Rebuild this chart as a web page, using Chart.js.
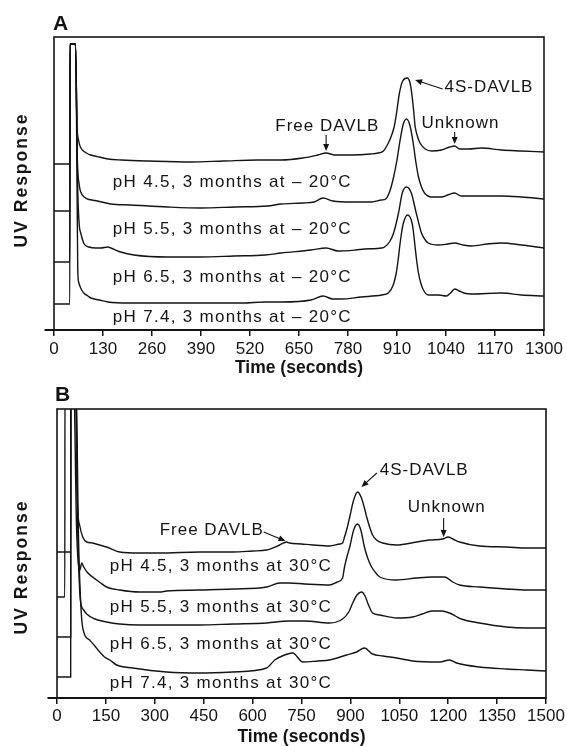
<!DOCTYPE html>
<html>
<head>
<meta charset="utf-8">
<script src="https://cdn.jsdelivr.net/npm/chart.js@4.4.1/dist/chart.umd.min.js"></script>
<style>
  html, body { margin: 0; padding: 0; background: #fff; }
  #wrap { position: relative; width: 567px; height: 746px; overflow: hidden; }
  canvas { position: absolute; left: 0; }
  #chartA { top: 0; }
  #chartB { top: 373px; }
</style>
</head>
<body>
<div id="wrap">
  <canvas id="chartA" width="567" height="392"></canvas>
  <canvas id="chartB" width="567" height="373"></canvas>
</div>
<script>
// ─── Tick labels ─────────────────────────────────────────────
const ticksA = [0, 130, 260, 390, 520, 650, 780, 910, 1040, 1170, 1300];
const ticksB = [0, 150, 300, 450, 600, 750, 900, 1050, 1200, 1350, 1500];

// ─── Panel A: 3 months at -20°C (time s / UV response, arbitrary units) ───
const tA45 = [0, 42, 42.5, 57, 61, 65, 70, 78, 86, 97, 108, 120, 143, 180, 250, 363, 450, 540, 603, 660, 700, 722, 745, 790, 840, 860, 874, 887, 895, 903, 910, 916, 925, 937, 944, 949, 954, 958, 964, 971, 985, 1002, 1028, 1050, 1063, 1076, 1100, 1134, 1187, 1240, 1300];
const uvA45 = [166, 166, 286, 286, 205, 190, 183, 179, 177, 175, 174, 173, 171, 170, 169, 168, 169, 170, 170, 172, 175, 177, 175, 175, 176, 177, 179, 187, 194, 204, 220, 236, 249, 252, 248, 237, 220, 204, 194, 187, 181, 179, 180, 183, 184, 181, 181, 182, 180, 179, 178];

const tA55 = [0, 42, 42.5, 57, 62, 67, 71, 80, 89, 100, 115, 150, 204, 301, 390, 480, 567, 603, 660, 690, 714, 740, 790, 842, 869, 880, 892, 901, 910, 917, 926, 935, 944, 953, 960, 967, 975, 983, 1002, 1028, 1045, 1063, 1080, 1134, 1187, 1240, 1300];
const uvA55 = [119, 119, 286, 286, 170, 145, 138, 133, 131, 130, 129, 126, 125, 123, 122, 123, 124, 126, 127, 128, 132, 129, 128, 128, 130, 131, 140, 153, 170, 187, 205, 211, 205, 187, 168, 153, 143, 137, 133, 133, 135, 137, 134, 134, 134, 133, 131];

const tA65 = [0, 42, 42.5, 57, 63, 67, 71, 80, 93, 110, 124, 143, 151, 177, 212, 301, 390, 478, 560, 603, 682, 722, 754, 800, 824, 869, 877, 890, 901, 914, 924, 935, 948, 961, 975, 985, 993, 1020, 1045, 1063, 1085, 1108, 1150, 1187, 1240, 1300];
const uvA65 = [68, 68, 286, 286, 140, 105, 97, 86, 83, 82, 82, 83, 82, 78, 75, 73, 73, 74, 75, 77, 80, 82, 79, 80, 81, 82, 83, 88, 97, 117, 137, 143, 137, 117, 97, 90, 87, 85, 86, 87, 85, 84, 86, 87, 85, 82];

const tA74 = [0, 42, 42.5, 57, 60, 63, 66, 72, 79, 90, 98, 120, 143, 200, 300, 400, 500, 560, 603, 682, 714, 740, 762, 815, 869, 887, 900, 908, 913, 917, 922, 927, 938, 950, 954, 958, 962, 967, 973, 980, 993, 1020, 1041, 1052, 1063, 1075, 1087, 1108, 1187, 1240, 1300];
const uvA74 = [26, 26, 286, 286, 200, 60, 47, 41, 37, 34, 32, 30, 28, 27, 27, 27, 27, 28, 28, 30, 34, 31, 31, 33, 35, 37, 45, 57, 70, 83, 97, 107, 115, 107, 97, 83, 70, 57, 47, 40, 35, 35, 34, 37, 41, 39, 37, 36, 37, 35, 34];

// ─── Panel B: 3 months at 30°C ───────────────────────────────
const tB45 = [0, 42, 42.5, 56, 62, 70, 79, 91, 109, 130, 152, 192, 254, 315, 438, 539, 600, 643, 683, 704, 713, 750, 784, 836, 867, 876, 882, 890, 898, 910, 922, 934, 943, 950, 958, 968, 980, 999, 1042, 1103, 1143, 1183, 1200, 1214, 1235, 1296, 1379, 1440, 1500];
const uvB45 = [146, 146, 340, 340, 200, 172, 161, 156, 155, 153, 151, 146, 145, 145, 146, 146, 147, 148, 153, 156, 155, 154, 153, 152, 154, 155, 161, 170, 181, 198, 206, 200, 190, 181, 172, 163, 158, 155, 153, 156, 158, 159, 161, 159, 156, 152, 151, 150, 150];

const tB55 = [0, 24, 24.5, 50, 60, 70, 76, 82, 92, 109, 130, 152, 192, 254, 315, 336, 438, 539, 643, 683, 713, 760, 836, 860, 876, 882, 890, 898, 910, 922, 932, 943, 953, 965, 978, 990, 1042, 1103, 1150, 1189, 1214, 1235, 1296, 1379, 1440, 1500];
const uvB55 = [101, 101, 340, 340, 170, 128, 135, 131, 126, 121, 116, 111, 108, 106, 106, 107, 108, 109, 111, 115, 115, 114, 113, 116, 120, 131, 142, 151, 168, 174, 168, 151, 140, 131, 125, 121, 118, 120, 121, 121, 116, 113, 111, 109, 108, 108];

const tB65 = [0, 42, 42.5, 56, 64, 70, 75, 82, 91, 116, 152, 192, 254, 336, 438, 539, 643, 713, 760, 836, 876, 895, 907, 920, 934, 945, 953, 961, 968, 990, 1042, 1091, 1120, 1150, 1180, 1204, 1222, 1240, 1296, 1379, 1440, 1500];
const uvB65 = [61, 61, 340, 340, 160, 105, 92, 88, 84, 79, 76, 74, 73, 73, 73, 74, 75, 77, 77, 75, 79, 86, 95, 103, 106, 102, 95, 89, 85, 83, 80, 81, 84, 87, 87, 85, 82, 79, 75, 71, 70, 70];

const tB74 = [0, 42, 42.5, 57, 66, 72, 79, 100, 116, 131, 146, 162, 183, 232, 336, 438, 539, 643, 668, 698, 723, 754, 800, 836, 888, 919, 943, 968, 1000, 1042, 1091, 1174, 1204, 1226, 1296, 1379, 1440, 1500];
const uvB74 = [21, 21, 340, 340, 160, 100, 70, 58, 52, 46, 41, 38, 33, 30, 26, 25, 26, 30, 38, 43, 45, 36, 37, 38, 43, 46, 50, 44, 42, 40, 37, 36, 38, 35, 31, 29, 28, 27];

const labelsA = ['pH 4.5, 3 months at – 20°C', 'pH 5.5, 3 months at – 20°C', 'pH 6.5, 3 months at – 20°C', 'pH 7.4, 3 months at – 20°C'];
const labelsB = ['pH 4.5, 3 months at 30°C', 'pH 5.5, 3 months at 30°C', 'pH 6.5, 3 months at 30°C', 'pH 7.4, 3 months at 30°C'];

// ─── Drawing helpers ─────────────────────────────────────────
const INK = '#141414';
const FONT = '"Liberation Sans", Arial, Helvetica, sans-serif';

function traceDataset(ts, vs) {
  return {
    data: ts.map((t, i) => ({ x: t, y: vs[i] })),
    borderColor: INK,
    borderWidth: 1.4,
    pointRadius: 0,
    fill: false,
    cubicInterpolationMode: 'monotone'
  };
}

function drawText(ctx, str, x, y, size, opts = {}) {
  ctx.font = `${opts.bold ? 'bold ' : ''}${size}px ${FONT}`;
  ctx.letterSpacing = (opts.spacing || 0) + 'px';
  ctx.textAlign = opts.align || 'left';
  ctx.textBaseline = 'middle';
  ctx.fillText(str, x, y);
  ctx.letterSpacing = '0px';
}

function drawArrow(ctx, x1, y1, x2, y2) {
  const a = Math.atan2(y2 - y1, x2 - x1);
  const len = 7, half = 3;
  ctx.beginPath();
  ctx.moveTo(x1, y1);
  ctx.lineTo(x2 - Math.cos(a) * len * 0.6, y2 - Math.sin(a) * len * 0.6);
  ctx.stroke();
  ctx.beginPath();
  ctx.moveTo(x2, y2);
  ctx.lineTo(x2 - len * Math.cos(a) + half * Math.sin(a), y2 - len * Math.sin(a) - half * Math.cos(a));
  ctx.lineTo(x2 - len * Math.cos(a) - half * Math.sin(a), y2 - len * Math.sin(a) + half * Math.cos(a));
  ctx.closePath();
  ctx.fill();
}

function makePanel(canvasId, cfg) {
  const decor = {
    id: 'decor',
    afterDraw(chart) {
      const { ctx, chartArea: a, scales: { x, y } } = chart;
      ctx.save();
      ctx.strokeStyle = INK;
      ctx.fillStyle = INK;

      // frame + axis overshoot on the left
      ctx.lineWidth = 1.6;
      ctx.strokeRect(a.left, a.top, a.right - a.left, a.bottom - a.top);
      ctx.lineWidth = 2;
      ctx.beginPath();
      ctx.moveTo(a.left - 9.5, a.bottom);
      ctx.lineTo(a.left, a.bottom);
      ctx.stroke();

      // panel letter and axis titles
      drawText(ctx, cfg.letter, cfg.letterPos[0], cfg.letterPos[1], 21, { bold: true });
      drawText(ctx, 'Time (seconds)', (a.left + a.right) / 2, a.bottom + cfg.xTitleGap, 17.5, { bold: true, align: 'center' });
      ctx.save();
      ctx.translate(22, cfg.yTitleY);
      ctx.rotate(-Math.PI / 2);
      drawText(ctx, 'UV Response', 0, 0, 17.5, { bold: true, align: 'center', spacing: 2 });
      ctx.restore();

      // trace labels
      cfg.labels.forEach((s, i) => {
        drawText(ctx, s, x.getPixelForValue(cfg.labelT), y.getPixelForValue(cfg.labelV[i]), 17, { spacing: 1.3 });
      });

      // peak annotations with arrows
      ctx.lineWidth = 1.1;
      cfg.notes.forEach(n => {
        drawText(ctx, n.text, x.getPixelForValue(n.at[0]), y.getPixelForValue(n.at[1]), 17, { spacing: 1 });
        drawArrow(ctx,
          x.getPixelForValue(n.from[0]), y.getPixelForValue(n.from[1]),
          x.getPixelForValue(n.to[0]), y.getPixelForValue(n.to[1]));
      });
      ctx.restore();
    }
  };

  return new Chart(document.getElementById(canvasId), {
    type: 'line',
    data: { datasets: cfg.traces.map(([t, v]) => traceDataset(t, v)) },
    options: {
      responsive: false,
      animation: false,
      devicePixelRatio: 1,
      layout: { padding: { left: cfg.pad.left, right: cfg.pad.right, top: cfg.pad.top, bottom: 0 } },
      plugins: { legend: { display: false }, tooltip: { enabled: false } },
      scales: {
        x: {
          type: 'linear',
          min: 0,
          max: cfg.xMax,
          afterBuildTicks: s => { s.ticks = cfg.ticks.map(v => ({ value: v })); },
          afterFit: s => { s.height = cfg.axisH; },
          grid: { drawOnChartArea: false, drawTicks: true, tickLength: 6, color: INK, lineWidth: 1.5 },
          border: { display: true, color: INK, width: 2 },
          ticks: {
            color: INK, font: { family: FONT, size: 17 }, padding: cfg.tickPad,
            maxRotation: 0, autoSkip: false,
            callback: v => String(v)
          }
        },
        y: { display: false, min: 0, max: cfg.yMax }
      }
    },
    plugins: [decor]
  });
}

makePanel('chartA', {
  letter: 'A', letterPos: [53, 24.5], yTitleY: 180, xTitleGap: 38,
  pad: { left: 54, right: 23, top: 37 }, axisH: 62, tickPad: 3,
  xMax: 1300, ticks: ticksA, yMax: 293,
  traces: [[tA45, uvA45], [tA55, uvA55], [tA65, uvA65], [tA74, uvA74]],
  labels: labelsA, labelT: 156, labelV: [148, 101, 53, 13],
  notes: [
    { text: 'Free DAVLB', at: [587, 204], from: [722, 195], to: [722, 179] },
    { text: '4S-DAVLB', at: [1036, 243], from: [1031, 241], to: [958, 250] },
    { text: 'Unknown', at: [975, 207], from: [1063, 198], to: [1063, 186] }
  ]
});

makePanel('chartB', {
  letter: 'B', letterPos: [55, 22], yTitleY: 194, xTitleGap: 39,
  pad: { left: 57, right: 21, top: 36 }, axisH: 48, tickPad: 2,
  xMax: 1500, ticks: ticksB, yMax: 289,
  traces: [[tB45, uvB45], [tB55, uvB55], [tB65, uvB65], [tB74, uvB74]],
  labels: labelsB, labelT: 162, labelV: [132, 91, 54, 15],
  notes: [
    { text: 'Free DAVLB', at: [315, 168], from: [634, 166], to: [701, 157] },
    { text: '4S-DAVLB', at: [990, 228], from: [981, 225], to: [934, 211] },
    { text: 'Unknown', at: [1076, 191], from: [1186, 180], to: [1186, 161] }
  ]
});
</script>
</body>
</html>
